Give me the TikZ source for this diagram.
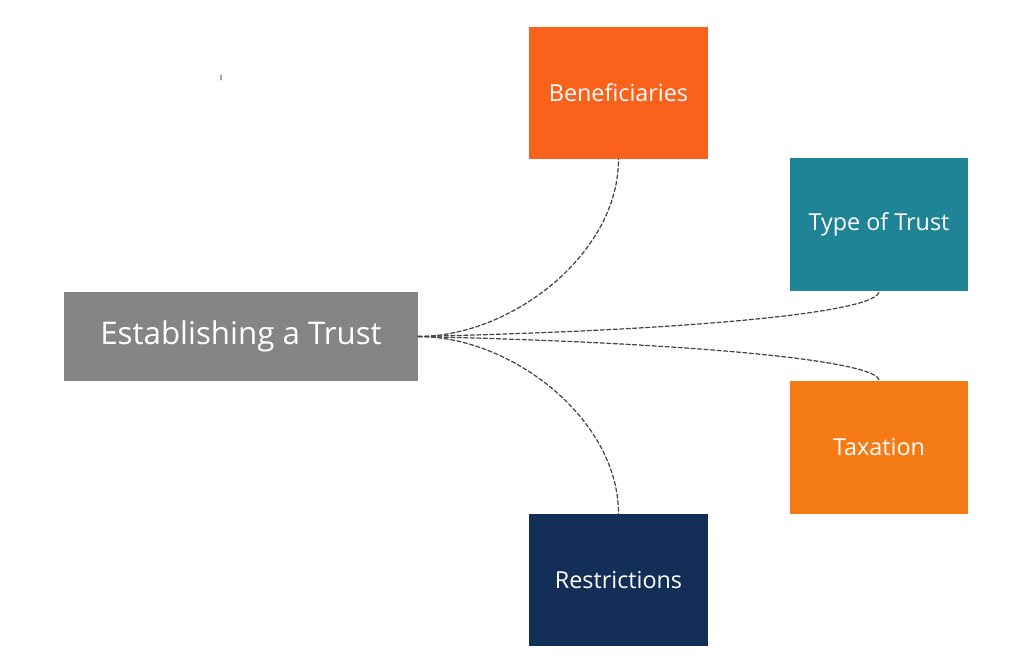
\documentclass[tikz,border=0pt]{standalone}
\usepackage{fontspec}
\setmainfont{Open Sans}
\usetikzlibrary{positioning}
\definecolor{hubgray}{HTML}{858585}
\definecolor{benorange}{HTML}{FA621C}
\definecolor{typeteal}{HTML}{1E8496}
\definecolor{taxorange}{HTML}{F57B17}
\definecolor{resnavy}{HTML}{142F57}
\definecolor{linkgray}{HTML}{444444}

\begin{document}
\begin{tikzpicture}[x=0.02cm,y=0.02cm,line cap=round,line join=round,
  font=\fontsize{13.3}{16}\selectfont,
  box/.style={text=white,inner sep=0pt,minimum width=5.1cm,minimum height=3.78cm},
  hub/.style={fill=hubgray,text=white,inner sep=0pt,minimum width=7.08cm,
    minimum height=1.78cm,font=\fontsize{17.8}{21}\selectfont},
  link/.style={linkgray,dash pattern=on 2.3pt off 1.4pt,line width=.7pt}]
  \path[use as bounding box] (0,0) rectangle (1024,670);
  \node[hub] (trust) at (241,333.5) {Establishing a Trust};
  \node[box,fill=benorange,minimum width=3.58cm,minimum height=2.64cm] (ben) at (618.5,577) {Beneficiaries};
  \node[box,fill=typeteal,minimum width=3.56cm,minimum height=2.66cm] (type) at (879,445.5) {Type of Trust};
  \node[box,fill=taxorange,minimum width=3.56cm,minimum height=2.66cm] (tax) at (879,222.5) {Taxation};
  \node[box,fill=resnavy,minimum width=3.58cm,minimum height=2.64cm] (res) at (618.5,90) {Restrictions};
  % dashed links from the hub
  \draw[link] (trust.east) to[out=0,in=-90,looseness=0.9] (ben.south);
  \draw[link] (trust.east) .. controls (700,340) and (879,358) .. (type.south);
  \draw[link] (trust.east) .. controls (700,327) and (879,309) .. (tax.north);
  \draw[link] (trust.east) to[out=0,in=90,looseness=0.9] (res.north);
  \draw[gray!70,line width=.6pt] (221,595)--(221,590);
\end{tikzpicture}
\end{document}
